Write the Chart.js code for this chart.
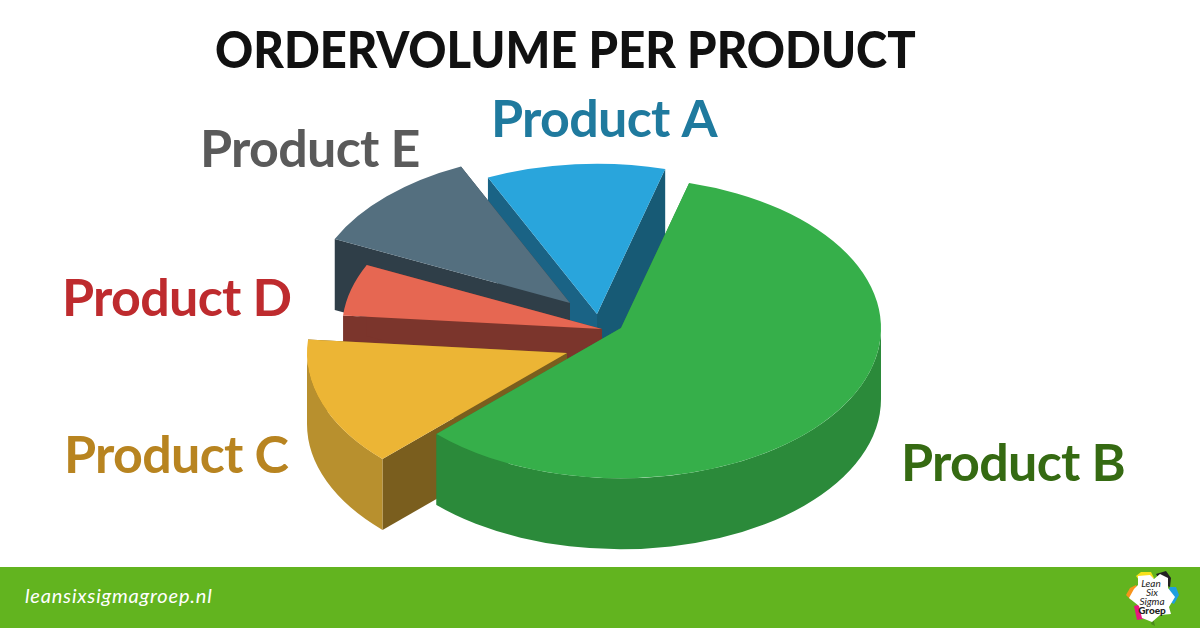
<!DOCTYPE html>
<html>
<head>
<meta charset="utf-8">
<title>Ordervolume per product</title>
<script src="https://cdn.jsdelivr.net/npm/chart.js@4"></script>
<style>
  html, body { margin: 0; padding: 0; background: #fff; }
  #page { position: relative; width: 1200px; height: 628px; overflow: hidden; font-family: Lato, sans-serif; }
  #pie { position: absolute; left: 0; top: 0; }
  h1 { position: absolute; left: 215px; top: 15px; margin: 0; font-size: 52px; line-height: 66px; font-weight: 900; color: #111; white-space: nowrap; transform: scaleX(0.907); transform-origin: left top; }
  #footer { position: absolute; left: 0; top: 567px; width: 1200px; height: 61px; background: #62B41F; }
  #site { position: absolute; left: 25px; top: 16px; font-size: 20px; font-style: italic; color: #fff; letter-spacing: 0.8px; }
  #logo { position: absolute; left: 1120px; top: 1px; }
</style>
</head>
<body>
<div id="page">
  <canvas id="pie" width="1200" height="628"></canvas>
  <h1>ORDERVOLUME PER PRODUCT</h1>
  <div id="footer">
    <div id="site">leansixsigmagroep.nl</div>
    <svg id="logo" width="64" height="60" viewBox="1120 568 64 60">
      <polygon points="1136,576 1141,572 1151,572 1154,578 1142,584" fill="#F7E11B"/>
      <polygon points="1156,574 1166,571 1171,578 1170,587 1162,584" fill="#222"/>
      <polygon points="1170,587 1176,587 1179,595 1174,604 1166,600" fill="#1E9FE0"/>
      <polygon points="1130,588 1136,585 1140,596 1131,600 1126,595" fill="#F7941D"/>
      <polygon points="1134,606 1142,604 1147,618 1137,620" fill="#E6177F"/>
      <polygon points="1153,618 1155,626 1151,624" fill="#4C8A1C"/>
      <polygon points="1138,576 1150,575 1154,579 1160,574 1168,578 1168,588 1175,597 1169,607 1171,614 1160,615 1152,622 1142,618 1139,606 1129,598 1134,589 1138,585" fill="#fff"/>
      <g text-anchor="middle" font-family="Lato, sans-serif" fill="#222">
        <text x="1151" y="587" font-size="10" font-style="italic">Lean</text>
        <text x="1152" y="596" font-size="10" font-style="italic">Six</text>
        <text x="1152" y="605" font-size="10" font-style="italic">Sigma</text>
        <text x="1152" y="614" font-size="10" font-weight="900">Groep</text>
      </g>
    </svg>
  </div>
</div>
<script>
const products = ["Product A", "Product B", "Product C", "Product D", "Product E"];
const orderVolume = [40, 210, 50, 20, 40];

const topColors = ["#29A5DC", "#36AF4A", "#ECB535", "#E66752", "#546F7F"];
const rimColors = ["#175A75", "#2B8A3A", "#B8902E", "#7B352C", "#2F3E48"];
const startWallColors = ["#1A6385", "#2B8A3A", "#7A5E1E", "#7B352C", "#2F3E48"];
const endWallColors = ["#175A75", "#2B8A3A", "#7A5E1E", "#7B352C", "#2F3E48"];
const labelColors = ["#1F7A9E", "#356A12", "#B88420", "#BE2B2E", "#5A5A5A"];
// left edge and baseline of each label
const labelX = [491, 901, 64, 62, 200];
const labelY = [137, 481, 473, 316, 167];
// how far each slice is pulled out of the pie, in pixels
const shiftX = [-3, 21, -33, 2, -30];
const shiftY = [0, 14, 39, 15, -11];
// back to front
const drawOrder = [0, 4, 3, 2, 1];

const squash = 0.578;
const depth = 71;

function drawWall(ctx, px, py, r, angle, color) {
  const ex = px + Math.cos(angle) * r;
  const ey = py + Math.sin(angle) * r * squash;
  ctx.fillStyle = color;
  ctx.beginPath();
  ctx.moveTo(px, py);
  ctx.lineTo(ex, ey);
  ctx.lineTo(ex, ey + depth);
  ctx.lineTo(px, py + depth);
  ctx.closePath();
  ctx.fill();
}

// squashes the flat pie and adds the side walls
const pie3d = {
  id: "pie3d",
  beforeDatasetDraw(chart) {
    const ctx = chart.ctx;
    const arcs = chart.getDatasetMeta(0).data;
    drawOrder.forEach((i) => {
      const arc = arcs[i];
      const r = arc.outerRadius;
      const px = arc.x + shiftX[i];
      const py = arc.y + shiftY[i];

      drawWall(ctx, px, py, r, arc.startAngle, startWallColors[i]);
      drawWall(ctx, px, py, r, arc.endAngle, endWallColors[i]);

      // only the front half of the rim can be seen
      const from = Math.max(arc.startAngle, 0);
      const to = Math.min(arc.endAngle, Math.PI);
      if (from < to) {
        ctx.fillStyle = rimColors[i];
        ctx.beginPath();
        ctx.ellipse(px, py, r, r * squash, 0, from, to);
        ctx.ellipse(px, py + depth, r, r * squash, 0, to, from, true);
        ctx.closePath();
        ctx.fill();
      }

      ctx.save();
      ctx.translate(px, py);
      ctx.scale(1, squash);
      ctx.translate(-arc.x, -arc.y);
      arc.draw(ctx);
      ctx.restore();
    });
    return false;
  },
  afterDraw(chart) {
    const ctx = chart.ctx;
    ctx.save();
    ctx.font = "700 52px Lato, sans-serif";
    ctx.letterSpacing = "-0.7px";
    ctx.textAlign = "left";
    ctx.textBaseline = "alphabetic";
    products.forEach((name, i) => {
      ctx.fillStyle = labelColors[i];
      ctx.fillText(name, labelX[i], labelY[i]);
    });
    ctx.restore();
  },
};

new Chart(document.getElementById("pie"), {
  type: "pie",
  data: {
    labels: products,
    datasets: [{ data: orderVolume, backgroundColor: topColors, borderWidth: 0 }],
  },
  options: {
    responsive: false,
    animation: false,
    rotation: -24.8,
    radius: 260,
    plugins: { legend: { display: false }, tooltip: { enabled: false } },
  },
  plugins: [pie3d],
});
</script>
</body>
</html>
